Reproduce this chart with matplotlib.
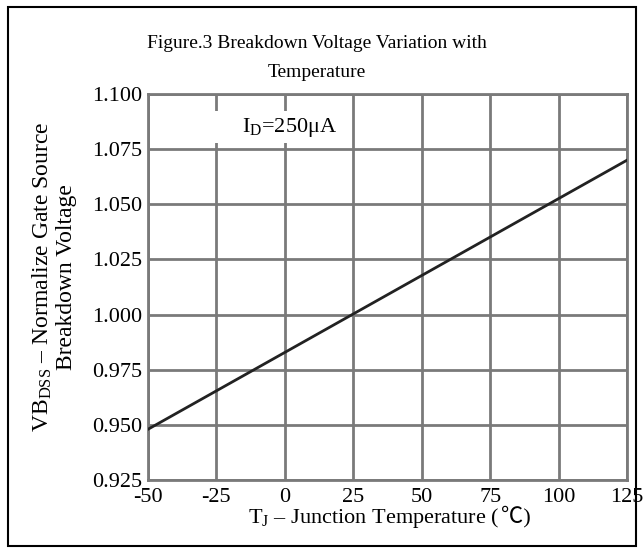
import matplotlib
matplotlib.use('Agg')
import matplotlib.pyplot as plt
import numpy as np

plt.rcParams['font.family'] = ['Liberation Serif', 'Noto Sans CJK SC', 'DejaVu Sans']
plt.rcParams['mathtext.fontset'] = 'custom'
plt.rcParams['mathtext.rm'] = 'Liberation Serif'
plt.rcParams['mathtext.it'] = 'Liberation Serif:italic'
plt.rcParams['axes.unicode_minus'] = False

temp = [-50, 125]                 # junction temperature, degC
bv_norm = [0.948, 1.070]          # normalized breakdown voltage
x_ticks = [-50, -25, 0, 25, 50, 75, 100, 125]
y_ticks = [0.925, 0.950, 0.975, 1.000, 1.025, 1.050, 1.075, 1.100]

fig = plt.figure(figsize=(6.44, 5.53), dpi=100, facecolor='white')
# outer frame
fig.add_artist(plt.Rectangle((0.012, 0.012), 0.976, 0.975, transform=fig.transFigure,
                             fill=False, edgecolor='black', linewidth=1.5))

ax = fig.add_axes([0.2298, 0.132, 0.7438, 0.698])
ax.plot(temp, bv_norm, color='#222222', linewidth=2, zorder=3)
ax.set_xlim(-50, 125)
ax.set_ylim(0.925, 1.100)
ax.set_xticks(x_ticks)
ax.set_yticks(y_ticks)
ax.set_yticklabels(['%.3f' % v for v in y_ticks])
ax.grid(True, color='#7a7a7a', linewidth=2)
for s in ax.spines.values():
    s.set_color('#7a7a7a')
    s.set_linewidth(2)
ax.tick_params(length=0, labelsize=16, pad=4, colors='black')
ax.tick_params(axis='x', pad=6)

# white patch behind the current label (breaks the grid lines)
ax.add_patch(plt.Rectangle((-28, 1.0778), 50, 0.0145, facecolor='white', edgecolor='none', zorder=2.5))
ax.text(-15.7, 1.085, r'I$_{\rm D}$=250μA', fontsize=16, va='center', ha='left', zorder=4)

fig.text(0.492, 0.922, 'Figure.3 Breakdown Voltage Variation with', ha='center', va='center', fontsize=14)
fig.text(0.492, 0.869, 'Temperature', ha='center', va='center', fontsize=14)

# x label: mathtext part, then the ℃ sign from the CJK font
t1 = fig.text(0.385, 0.063, r'T$_{\rm J}$ – Junction Temperature (', ha='left', va='center', fontsize=16)
ax.annotate('℃)', xy=(1, 0), xycoords=t1, xytext=(1, 2.2), textcoords='offset points',
            ha='left', va='bottom', fontsize=16, annotation_clip=False)

fig.text(0.066, 0.499, r'VB$_{\rm DSS}$ – Normalize Gate Source', ha='center', va='center',
         rotation=90, fontsize=17)
fig.text(0.103, 0.499, 'Breakdown Voltage', ha='center', va='center', rotation=90, fontsize=17)

fig.savefig('out.png', dpi=100, facecolor='white')
